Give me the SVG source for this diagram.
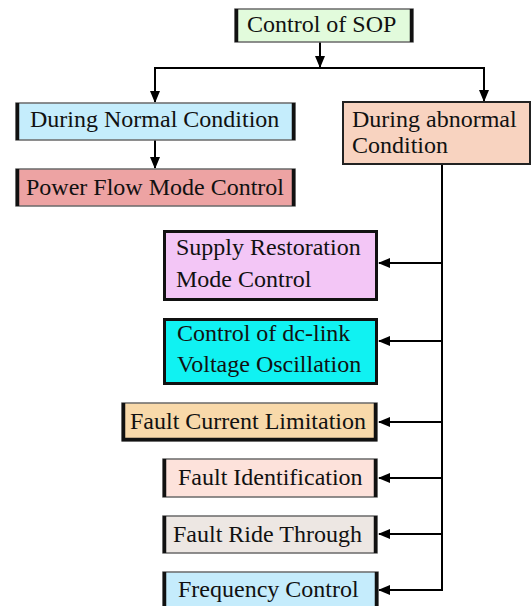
<svg xmlns="http://www.w3.org/2000/svg" width="531" height="606" viewBox="0 0 531 606">
<style>
.box{stroke:#6a6a6a;stroke-width:1.5}
.side{stroke:#111;stroke-width:3.5;fill:none}
.full{stroke:#111;stroke-width:3}
.thin{stroke:#222;stroke-width:2}
text{font-family:"Liberation Serif","Times New Roman",serif;font-size:24px;fill:#111}
.conn{stroke:#000;stroke-width:2;fill:none}
</style>
<defs>
<marker id="ah" markerWidth="12" markerHeight="10" refX="11" refY="5" orient="auto" markerUnits="userSpaceOnUse">
<path d="M0,0 L12,5 L0,10 Z" fill="#000"/>
</marker>
</defs>
<rect width="531" height="606" fill="#fff"/>
<g id="connectors">
<path class="conn" d="M320,42 V67" marker-end="url(#ah)"/>
<path class="conn" d="M320,68 H155 V102" marker-end="url(#ah)"/>
<path class="conn" d="M320,68 H484 V101" marker-end="url(#ah)"/>
<path class="conn" d="M155,140 V168" marker-end="url(#ah)"/>
<path class="conn" d="M442,164 V590 H379" marker-end="url(#ah)"/>
<path class="conn" d="M442,263 H379" marker-end="url(#ah)"/>
<path class="conn" d="M442,341 H379" marker-end="url(#ah)"/>
<path class="conn" d="M442,422 H379" marker-end="url(#ah)"/>
<path class="conn" d="M442,478 H379" marker-end="url(#ah)"/>
<path class="conn" d="M442,534 H379" marker-end="url(#ah)"/>
</g>
<g id="control-sop">
<rect class="box" x="235" y="9" width="178" height="33" fill="#e2fbdc"/>
<path class="side" d="M236.5,9 V42 M411.5,9 V42"/>
<text x="247" y="32">Control of SOP</text>
</g>
<g id="normal">
<rect class="box" x="16" y="103" width="279" height="37" fill="#c5edfc"/>
<path class="side" d="M17.5,103 V140 M293.5,103 V140"/>
<text x="30" y="127" font-size="24.4">During Normal Condition</text>
</g>
<g id="power-flow">
<rect class="box" x="16" y="169" width="279" height="37" fill="#eda3a3"/>
<path class="side" d="M17.5,169 V206 M293.5,169 V206"/>
<text x="26" y="195" font-size="24.4">Power Flow Mode Control</text>
</g>
<g id="abnormal">
<rect class="thin" x="343" y="102" width="187" height="62" fill="#f8d3c0"/>
<text x="352" y="127">During abnormal</text>
<text x="352" y="153">Condition</text>
</g>
<g id="supply-restoration">
<rect class="full" x="164.5" y="231.5" width="212" height="68" fill="#f3c6f6"/>
<text x="176" y="255">Supply Restoration</text>
<text x="176" y="287">Mode Control</text>
</g>
<g id="dc-link">
<rect class="full" x="164.5" y="319.5" width="212" height="64" fill="#10f2f2"/>
<text x="177" y="341">Control of dc-link</text>
<text x="177" y="372">Voltage Oscillation</text>
</g>
<g id="fault-current">
<rect class="box" x="122" y="403" width="255" height="38" fill="#f8d9aa"/>
<path class="side" d="M123.5,403 V441 M375.5,403 V441"/>
<path class="side" d="M122,439.5 H377"/>
<text x="130" y="429">Fault Current Limitation</text>
</g>
<g id="fault-identification">
<rect class="box" x="163" y="459" width="214" height="38" fill="#fde2db"/>
<path class="side" d="M164.5,459 V497 M375.5,459 V497"/>
<text x="178" y="485">Fault Identification</text>
</g>
<g id="fault-ride-through">
<rect class="box" x="163" y="516" width="214" height="37" fill="#ede7e3"/>
<path class="side" d="M164.5,516 V553 M375.5,516 V553"/>
<text x="173" y="542">Fault Ride Through</text>
</g>
<g id="frequency-control">
<rect class="box" x="163" y="572" width="215" height="40" fill="#c5ecfc"/>
<path class="side" d="M164.5,572 V612 M376.5,572 V612"/>
<text x="178" y="597">Frequency Control</text>
</g>
</svg>
